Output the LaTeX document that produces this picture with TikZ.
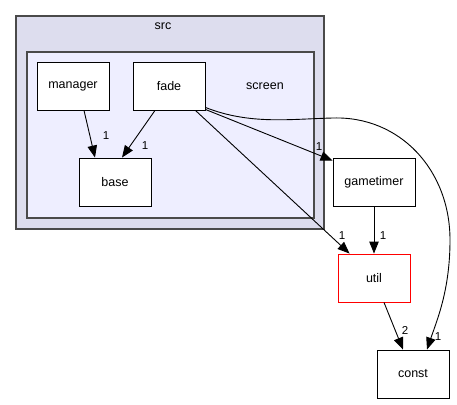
\documentclass[tikz,border=0pt]{standalone}
\usepackage{fontspec}
\setmainfont{Liberation Sans}
\usetikzlibrary{arrows.meta}
\definecolor{srcfill}{HTML}{DDDDEE}
\definecolor{screenfill}{HTML}{EEEEFF}
\definecolor{clusterline}{HTML}{4A4A4A}
\tikzset{
  cluster/.style={draw=clusterline, line width=1.6pt, anchor=north west, inner sep=0pt},
  dirbox/.style={draw=black, line width=0.9pt, fill=white, minimum height=48pt,
    minimum width=72pt, inner sep=0pt, font=\fontsize{12.5}{14}\selectfont},
  dep/.style={line width=0.9pt, -{Triangle[length=12pt,width=9.5pt]}},
  cnt/.style={font=\fontsize{11.5}{13}\selectfont, inner sep=0pt},
  ttl/.style={font=\fontsize{12.5}{14}\selectfont, inner sep=0pt}
}
\begin{document}
\begin{tikzpicture}[x=1pt, y=-1pt]
\useasboundingbox (0,0) rectangle (457,404);
% directory clusters
\node[cluster, fill=srcfill, minimum width=308pt, minimum height=213pt] (src) at (15,15) {};
\node[ttl] (srctitle) at (163,26) {src};
\node[cluster, fill=screenfill, minimum width=287pt, minimum height=166pt] (screen) at (26,51) {};
\node[ttl] (screentitle) at (265,86) {screen};
% directories
\node[dirbox] (manager) at (73,86) {manager};
\node[dirbox] (fade) at (169,86) {fade};
\node[dirbox] (base) at (115,182) {base};
\node[dirbox, minimum width=82pt] (gametimer) at (374,182) {gametimer};
\node[dirbox, draw=red] (util) at (374,278) {util};
\node[dirbox] (const) at (413,374) {const};
% dependencies
\draw[dep] ([xshift=11pt]manager.south) -- ([xshift=-20pt]base.north);
\draw[dep] ([xshift=-14pt]fade.south) -- ([xshift=7pt]base.north);
\draw[dep] ([yshift=1pt]fade.south east) -- ([yshift=-3pt]gametimer.north west);
\draw[dep] ([xshift=-10pt]fade.south east) -- ([xshift=12pt]util.north west);
\draw[dep] (gametimer.south) -- (util.north);
\draw[dep] ([xshift=10pt]util.south) -- ([xshift=-10pt]const.north);
\draw[dep] ([yshift=3pt]fade.south east) .. controls (250,125) and (290,119) .. (333,118)
  .. controls (400,116) and (450,170) .. (450,240)
  .. controls (450,290) and (437,320) .. ([xshift=14pt]const.north);
% dependency counts
\node[cnt] (c1) at (106,136) {1};
\node[cnt] (c2) at (145,146) {1};
\node[cnt] (c3) at (319,147) {1};
\node[cnt] (c4) at (342,236) {1};
\node[cnt] (c5) at (383,236) {1};
\node[cnt] (c6) at (405,330) {2};
\node[cnt] (c7) at (438,337) {1};
\end{tikzpicture}
\end{document}
